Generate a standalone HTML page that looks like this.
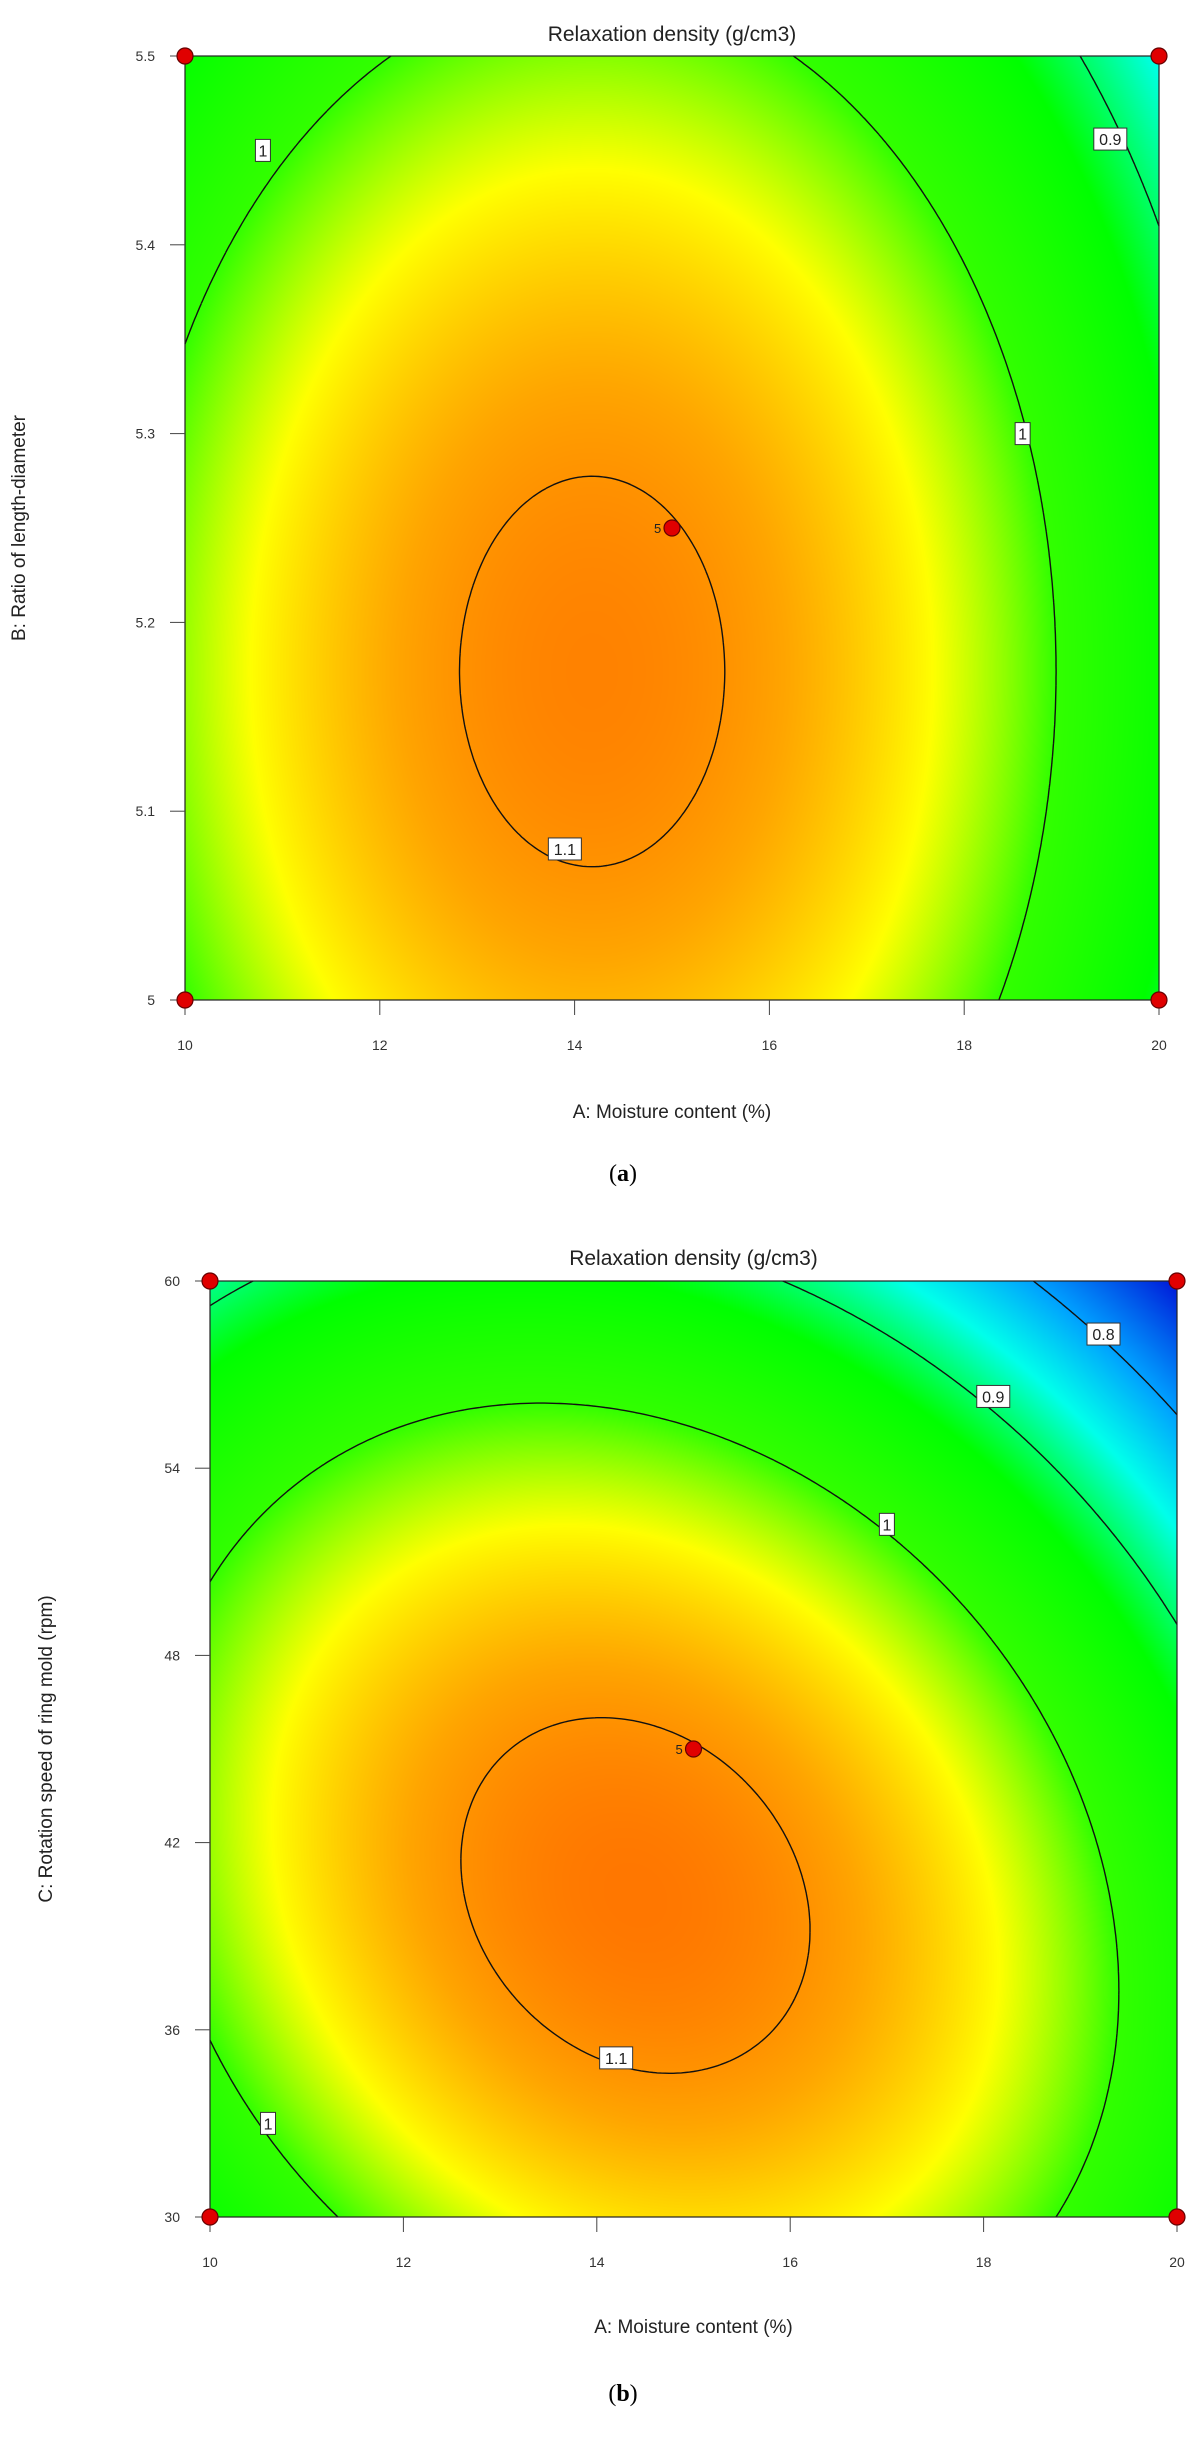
<!DOCTYPE html>
<html><head><meta charset="utf-8">
<style>
html,body{margin:0;padding:0;background:#fff;}
body{width:1192px;height:2451px;position:relative;overflow:hidden;font-family:"Liberation Sans",sans-serif;}
canvas{position:absolute;}
svg{position:absolute;left:0;top:0;}
</style></head>
<body>
<canvas id="cva"></canvas>
<canvas id="cvb"></canvas>
<svg id="sv" width="1192" height="2451"></svg>
<script>
// ---- data: plot (a)
const aXTicks = [10,12,14,16,18,20];
const aYTicks = [5,5.1,5.2,5.3,5.4,5.5];
const aModel = [1.1089, 0.12, 0.052, 0, -0.164, -0.304]; // c, a, b, e, x0, y0 (coded)
const aLevels = [0.9, 1.0, 1.1];
const aLabelsText = ["1","0.9","1","1.1"];
const aLabelsA = [10.8,19.5,18.6,13.9];
const aLabelsB = [5.45,5.456,5.3,5.08];
const aPtsA = [10,20,10,20,15];
const aPtsB = [5.5,5.5,5,5,5.25];
// ---- data: plot (b)
const bXTicks = [10,12,14,16,18,20];
const bYTicks = [30,36,42,48,54,60];
const bModel = [1.115, 0.1196, 0.108, 0.0443, -0.12, -0.313];
const bLevels = [0.8, 0.9, 1.0, 1.1];
const bLabelsText = ["0.8","0.9","1","1.1","1"];
const bLabelsA = [19.24,18.1,17.0,14.2,10.6];
const bLabelsC = [58.3,56.3,52.2,35.1,33.0];
const bPtsA = [10,20,10,20,15];
const bPtsC = [60,60,30,30,45];

const NS="http://www.w3.org/2000/svg";
const sv=document.getElementById('sv');
function mk(tag,attrs,parent){const e=document.createElementNS(NS,tag);for(const k in attrs)e.setAttribute(k,attrs[k]);(parent||sv).appendChild(e);return e;}
const stops=[[0.70,[0,0,210]],[0.80,[0,160,255]],[0.86,[0,255,235]],[0.93,[0,255,0]],[1.0,[50,255,0]],[1.05,[255,255,0]],[1.09,[255,165,0]],[1.125,[255,100,0]]];
function cmap(v){
  if(v<=stops[0][0])return stops[0][1];
  for(let i=1;i<stops.length;i++){if(v<=stops[i][0]){const t=(v-stops[i-1][0])/(stops[i][0]-stops[i-1][0]);const a=stops[i-1][1],b=stops[i][1];return [a[0]+(b[0]-a[0])*t,a[1]+(b[1]-a[1])*t,a[2]+(b[2]-a[2])*t];}}
  return stops[stops.length-1][1];
}
function model(m,x,y){const dx=x-m[4],dy=y-m[5];return m[0]-m[1]*dx*dx-m[2]*dy*dy-m[3]*dx*dy;}

function plot(cfg){
  const {id,L,R,T,B,xmin,xmax,ymin,ymax,m,levels,xticks,yticks,ydec,title,titleY,xt,xtY,yt,ytX,cap,capY,labT,labX,labY,ptX,ptY,pref}=cfg;
  const W=R-L,H=B-T;
  const sx=v=>L+(v-xmin)/(xmax-xmin)*W;
  const sy=v=>B-(v-ymin)/(ymax-ymin)*H;
  const cx=v=>(v-(xmin+xmax)/2)/((xmax-xmin)/2);
  const cy=v=>(v-(ymin+ymax)/2)/((ymax-ymin)/2);
  const cv=document.getElementById(id);cv.width=W;cv.height=H;cv.style.left=L+'px';cv.style.top=T+'px';
  const ctx=cv.getContext('2d');const img=ctx.createImageData(W,H);
  for(let j=0;j<H;j++){const y=1-2*(j+0.5)/H;for(let i=0;i<W;i++){const x=-1+2*(i+0.5)/W;const c=cmap(model(m,x,y));const k=(j*W+i)*4;img.data[k]=c[0];img.data[k+1]=c[1];img.data[k+2]=c[2];img.data[k+3]=255;}}
  ctx.putImageData(img,0,0);
  const g=mk('g',{});
  
  
  // contours via marching squares
  const N=240;
  const val=[];for(let j=0;j<=N;j++){val.push([]);for(let i=0;i<=N;i++)val[j].push(model(m,-1+2*i/N,-1+2*j/N));}
  const px=i=>L+i/N*W, py=j=>B-j/N*H;
  levels.forEach(lv=>{
    let d='';
    for(let j=0;j<N;j++)for(let i=0;i<N;i++){
      const v=[val[j][i],val[j][i+1],val[j+1][i+1],val[j+1][i]];
      const P=[[i,j],[i+1,j],[i+1,j+1],[i,j+1]];
      const pts=[];
      for(let e=0;e<4;e++){const a=v[e],b=v[(e+1)%4];if((a-lv)*(b-lv)<0){const t=(lv-a)/(b-a);const p=P[e],q=P[(e+1)%4];pts.push([px(p[0]+(q[0]-p[0])*t),py(p[1]+(q[1]-p[1])*t)]);}}
      if(pts.length>=2)d+='M'+pts[0][0].toFixed(1)+' '+pts[0][1].toFixed(1)+'L'+pts[1][0].toFixed(1)+' '+pts[1][1].toFixed(1);
      if(pts.length==4)d+='M'+pts[2][0].toFixed(1)+' '+pts[2][1].toFixed(1)+'L'+pts[3][0].toFixed(1)+' '+pts[3][1].toFixed(1);
    }
    const p=mk('path',{d:d,stroke:'#111',"stroke-width":1.4,fill:'none'},g);
    
    
  });
  const fr=mk('rect',{x:L,y:T,width:W,height:H,fill:'none',stroke:'#222',"stroke-width":1.2},g);
  
  
  // ticks
  xticks.forEach(t=>{
    mk('line',{x1:sx(t),x2:sx(t),y1:B,y2:B+15,stroke:'#444',"stroke-width":1},g);
    const tx=mk('text',{x:sx(t),y:B+50,"font-size":14,fill:'#333',"text-anchor":'middle'},g);tx.textContent=t;
    
    
  });
  yticks.forEach(t=>{
    mk('line',{x1:L-15,x2:L,y1:sy(t),y2:sy(t),stroke:'#444',"stroke-width":1},g);
    const tx=mk('text',{x:L-30,y:sy(t)+5,"font-size":14,fill:'#333',"text-anchor":'end'},g);tx.textContent=(ydec?t.toFixed(1).replace(/^5\.0$/,'5'):t);
    
    
  });
  // contour labels
  labT.forEach((s,k)=>{
    const x=sx(labX[k]),y=sy(labY[k]);const w=s.length*9+6;
    mk('rect',{x:x-w/2,y:y-11,width:w,height:22,fill:'#fff',stroke:'#333',"stroke-width":1},g);
    const tx=mk('text',{x:x,y:y+6,"font-size":16,fill:'#222',"text-anchor":'middle'},g);tx.textContent=s;
    
    
  });
  // design points
  ptX.forEach((a,k)=>{
    const c=mk('circle',{cx:sx(a),cy:sy(ptY[k]),r:8,fill:'#e00000',stroke:'#600',"stroke-width":1.2},g);
    
    
    if(k==4){const tx=mk('text',{x:sx(a)-18,y:sy(ptY[k])+5,"font-size":13,fill:'#222'},g);tx.textContent='5';
      
      }
  });
  const t1=mk('text',{x:(L+R)/2,y:titleY,"font-size":21,fill:'#222',"text-anchor":'middle'},g);t1.textContent=title;
  
  
  const t2=mk('text',{x:(L+R)/2,y:xtY,"font-size":19,fill:'#222',"text-anchor":'middle'},g);t2.textContent=xt;
  
  
  const yc=(T+B)/2;
  const t3=mk('text',{x:ytX,y:yc,"font-size":19,fill:'#222',"text-anchor":'middle',transform:`rotate(-90 ${ytX} ${yc})`},g);t3.textContent=yt;
  
  
  const t4=mk('text',{x:623,y:capY,"font-size":24,fill:'#000',"text-anchor":'middle',"font-family":'"Liberation Serif",serif'},g);
  t4.innerHTML='(<tspan font-weight="bold">'+cap+'</tspan>)';
  
  
}
plot({id:'cva',pref:'a',L:185,R:1159,T:56,B:1000,xmin:10,xmax:20,ymin:5,ymax:5.5,m:aModel,levels:aLevels,xticks:aXTicks,yticks:aYTicks,ydec:true,
 title:'Relaxation density (g/cm3)',titleY:41,xt:'A: Moisture content (%)',xtY:1118,yt:'B: Ratio of length-diameter',ytX:25,cap:'a',capY:1181,
 labT:aLabelsText,labX:aLabelsA,labY:aLabelsB,ptX:aPtsA,ptY:aPtsB});
plot({id:'cvb',pref:'b',L:210,R:1177,T:1281,B:2217,xmin:10,xmax:20,ymin:30,ymax:60,m:bModel,levels:bLevels,xticks:bXTicks,yticks:bYTicks,ydec:false,
 title:'Relaxation density (g/cm3)',titleY:1265,xt:'A: Moisture content (%)',xtY:2333,yt:'C: Rotation speed of ring mold (rpm)',ytX:52,cap:'b',capY:2401,
 labT:bLabelsText,labX:bLabelsA,labY:bLabelsC,ptX:bPtsA,ptY:bPtsC});
</script>
</body></html>
